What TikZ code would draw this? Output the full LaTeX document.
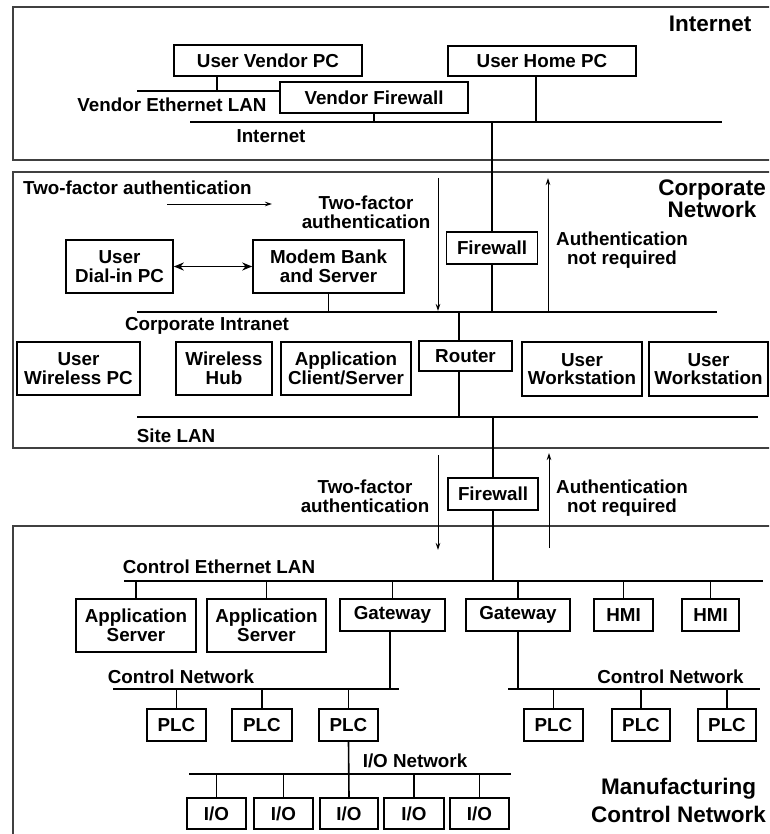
\documentclass[tikz,border=0pt]{standalone}
\usepackage{fontspec}
\setmainfont{Liberation Sans}
\usetikzlibrary{arrows.meta}
\newcommand\lblf{\fontsize{18.8}{18.5}\selectfont\bfseries}
\newcommand\bigf{\fontsize{22.5}{22}\selectfont\bfseries}
\begin{document}
\begin{tikzpicture}[x=1pt,y=-1pt,
  box/.style={draw, line width=1.6pt, inner sep=0pt, align=center, font=\lblf},
  sz/.style 2 args={minimum width=#1pt, minimum height=#2pt},
  lbl/.style={inner sep=0pt, align=center, font=\lblf},
  biglbl/.style={inner sep=0pt, align=center, font=\bigf},
  bus/.style={line width=1.6pt},
  frame/.style={draw=black!75, line width=1.3pt},
  flow/.style={line width=0.9pt, -{Stealth[length=7pt,width=4.5pt]}},
  dial/.style={line width=1.6pt, {Stealth[length=10pt,width=8pt]}-{Stealth[length=10pt,width=8pt]}},
]
\clip (0,0) rectangle (769,834);
\fill[white] (0,0) rectangle (769,834);

% frames
\draw[frame] (13,7) rectangle (790,160);
\draw[frame] (13,172) rectangle (790,448);
\draw[frame] (13,526) rectangle (790,860);

% ---------------- Internet ----------------
\node[box, sz={188}{31}] (uvpc) at (268,60.5) {User Vendor PC};
\node[box, sz={188}{31}] (vfw) at (374,97.5) {Vendor Firewall};
\node[box, sz={188}{30}] (uhpc) at (542,61) {User Home PC};
\coordinate (vlanL) at (137,91);
\coordinate (vd) at (217,91);
\draw[bus] (vlanL) -- (vlanL -| vfw.west);
\draw[bus] (uvpc.south -| vd) -- (vd);
\coordinate (inL) at (190,122);
\coordinate (inR) at (722,122);
\coordinate (hd) at (536,122);
\draw[bus] (inL) -- (inR);
\draw[bus] (vfw.south) -- (vfw.south |- inL);
\draw[bus] (uhpc.south -| hd) -- (hd);
\node[lbl, anchor=base] (velT) at (172,112) {Vendor Ethernet LAN};
\node[lbl, anchor=base] (inT) at (271,143) {Internet};
\node[biglbl, anchor=base] (inetT) at (710,32) {Internet};

% ---------------- Corporate ----------------
\node[box, sz={91}{32}] (fw1) at (492,248) {Firewall};
\draw[bus] (fw1.north) -- (fw1.north |- inL);
\coordinate (ciL) at (137,312);
\coordinate (ciR) at (717,312);
\draw[bus] (ciL) -- (ciR);
\draw[bus] (fw1.south) -- (fw1.south |- ciL);
\node[box, sz={107}{53}] (udp) at (119.5,266.5) {User\\Dial-in PC};
\node[box, sz={151}{53}] (mb) at (328.5,266.5) {Modem Bank\\and Server};
\draw[dial] (udp.east) -- (mb.west);
\draw[bus] (mb.south) -- (mb.south |- ciL);
\node[lbl, anchor=base west] (tfa1) at (23,195) {Two-factor authentication};
\coordinate (a1s) at (167,204);
\coordinate (a1e) at (272,204);
\draw[flow] (a1s) -- (a1e);
\node[lbl] (tfa2) at (366,212.5) {Two-factor\\authentication};
\coordinate (d1s) at (438,178);
\coordinate (d1e) at (438,311);
\draw[flow] (d1s) -- (d1e);
\coordinate (u1s) at (548,312);
\coordinate (u1e) at (548,178);
\draw[flow] (u1s) -- (u1e);
\node[lbl] (anr1) at (622,250) {Authentication\\not required};
\node[biglbl] (corpT) at (712,199) {Corporate\\Network};
\node[lbl, anchor=base] (ciT) at (207,330) {Corporate Intranet};
\node[box, sz={93}{30}] (rt) at (465.5,356) {Router};
\coordinate (rd) at (459,312);
\draw[bus] (rd) -- (rt.north -| rd);
\coordinate (slL) at (137,417);
\coordinate (slR) at (758,417);
\draw[bus] (slL) -- (slR);
\draw[bus] (rt.south -| rd) -- (rd |- slL);
\node[box, sz={123}{53}] (uwp) at (78.5,368.5) {User\\Wireless PC};
\node[box, sz={96}{53}] (wh) at (224,368.5) {Wireless\\Hub};
\node[box, sz={130}{53}] (acs) at (346,368.5) {Application\\Client/Server};
\node[box, sz={120}{54}] (uw1) at (582,369) {User\\Workstation};
\node[box, sz={119}{54}] (uw2) at (708.5,369) {User\\Workstation};
\node[lbl, anchor=base] (slT) at (176,442) {Site LAN};

% ---------------- Control ----------------
\node[box, sz={90}{32}] (fw2) at (493,494) {Firewall};
\draw[bus] (fw2.north |- slL) -- (fw2.north);
\coordinate (celL) at (124,581);
\coordinate (celR) at (763,581);
\draw[bus] (celL) -- (celR);
\draw[bus] (fw2.south) -- (fw2.south |- celL);
\node[lbl] (tfa3) at (365,496.5) {Two-factor\\authentication};
\coordinate (d2s) at (438,455);
\coordinate (d2e) at (438,550);
\draw[flow] (d2s) -- (d2e);
\coordinate (u2s) at (549,548);
\coordinate (u2e) at (549,453);
\draw[flow] (u2s) -- (u2e);
\node[lbl] (anr2) at (622,498) {Authentication\\not required};
\node[lbl, anchor=base] (celT) at (219,573) {Control Ethernet LAN};

\node[box, sz={120}{53}] (as1) at (136,625.5) {Application\\Server};
\node[box, sz={119}{53}] (as2) at (266.5,625.5) {Application\\Server};
\node[box, sz={105}{32}] (gw1) at (392.5,615) {Gateway};
\node[box, sz={104}{32}] (gw2) at (518,615) {Gateway};
\node[box, sz={59}{32}] (hmi1) at (623.5,615) {HMI};
\node[box, sz={57}{32}] (hmi2) at (710.5,615) {HMI};
\foreach \n in {as1,as2,gw1,gw2,hmi1,hmi2}
  \draw[bus] (\n.north) -- (\n.north |- celL);

\coordinate (cn1L) at (113,689);
\coordinate (cn1R) at (399,689);
\coordinate (g1d) at (390,689);
\draw[bus] (cn1L) -- (cn1R);
\draw[bus] (gw1.south -| g1d) -- (g1d);
\coordinate (cn2L) at (508,689);
\coordinate (cn2R) at (760,689);
\draw[bus] (cn2L) -- (cn2R);
\draw[bus] (gw2.south) -- (gw2.south |- cn2L);
\node[lbl, anchor=base] (cn1T) at (181,683) {Control Network};
\node[lbl, anchor=base] (cn2T) at (670.5,683) {Control Network};

\node[box, sz={59}{32}] (p1) at (176.5,725) {PLC};
\node[box, sz={60}{32}] (p2) at (262,725) {PLC};
\node[box, sz={59}{32}] (p3) at (348.5,725) {PLC};
\node[box, sz={59}{32}] (p4) at (553.5,725) {PLC};
\node[box, sz={58}{32}] (p5) at (641,725) {PLC};
\node[box, sz={58}{32}] (p6) at (727,725) {PLC};
\foreach \n in {p1,p2,p3}
  \draw[bus] (\n.north) -- (\n.north |- cn1L);
\foreach \n in {p4,p5,p6}
  \draw[bus] (\n.north) -- (\n.north |- cn2L);

\coordinate (ioL) at (189,774);
\coordinate (ioR) at (511,774);
\draw[bus] (ioL) -- (ioR);
\node[box, sz={59}{31}] (io1) at (216.5,813.5) {I/O};
\node[box, sz={59}{31}] (io2) at (283.5,813.5) {I/O};
\node[box, sz={58}{31}] (io3) at (349,813.5) {I/O};
\node[box, sz={60}{31}] (io4) at (414,813.5) {I/O};
\node[box, sz={59}{31}] (io5) at (479.5,813.5) {I/O};
\foreach \n in {io1,io2,io4,io5}
  \draw[bus] (\n.north) -- (\n.north |- ioL);
\draw[bus] (p3.south) -- (io3.north);
\node[lbl, anchor=base] (ionT) at (415,767) {I/O Network};
\node[biglbl] (mcnT) at (678.5,800) {Manufacturing\\[6pt]Control Network};
\end{tikzpicture}
\end{document}
